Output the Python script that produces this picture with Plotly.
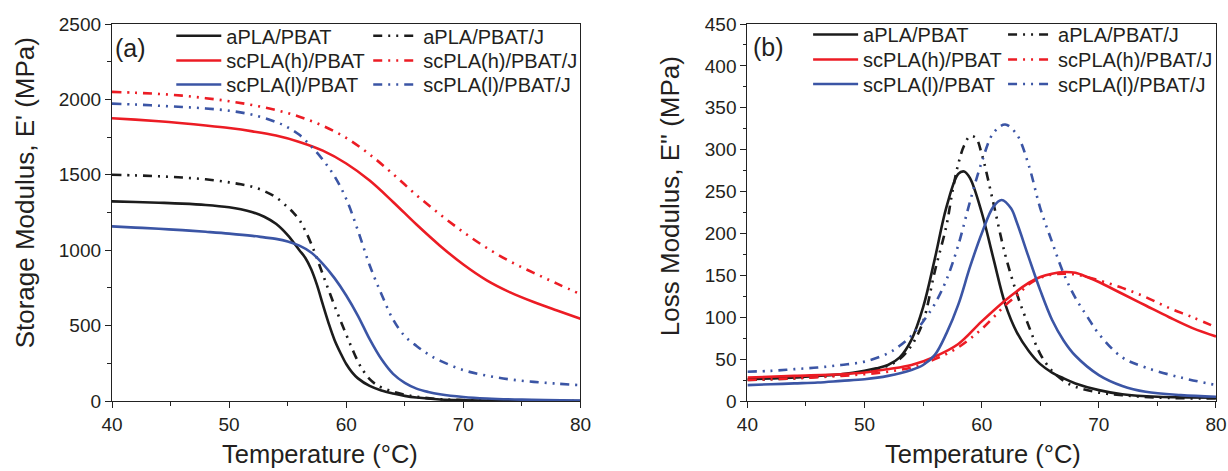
import plotly.graph_objects as go

# ---------------- Panel (a): Storage modulus E' (MPa) ----------------
a_apla_T = [40, 42, 44, 46, 48, 50, 51, 52, 53, 54, 55, 56, 56.5, 57, 57.5, 58, 58.5, 59, 59.5, 60, 60.5, 61,
            62, 63, 64, 65, 66, 68, 70, 74, 80]
a_apla_V = [1324, 1320, 1315, 1309, 1300, 1285, 1272, 1252, 1222, 1175, 1100, 1000, 950, 875, 770, 640, 515, 405,
            320, 245, 190, 150, 100, 70, 50, 34, 23, 10, 5, 1, 0]

a_aplaJ_T = [40, 42, 44, 46, 48, 50, 51, 52, 53, 54, 55, 55.5, 56, 56.5, 57, 57.5, 58, 58.5, 59, 59.5, 60, 60.5,
             61, 61.5, 62, 62.5, 63, 64, 65, 66, 68, 70, 74, 80]
a_aplaJ_V = [1500, 1496, 1490, 1482, 1470, 1450, 1437, 1420, 1392, 1350, 1285, 1248, 1200, 1130, 1045, 945, 840,
             735, 632, 535, 440, 348, 262, 195, 145, 112, 90, 62, 42, 28, 12, 6, 2, 0]

a_sch_T = [40, 42, 44, 46, 48, 50, 52, 54, 56, 58, 60, 62, 64, 66, 68, 70, 72, 74, 76, 78, 80]
a_sch_V = [1875, 1866, 1855, 1842, 1827, 1810, 1788, 1760, 1718, 1660, 1575, 1462, 1320, 1170, 1030, 905, 800,
           720, 656, 600, 546]

a_schJ_T = [40, 42, 44, 46, 48, 50, 52, 54, 56, 58, 60, 62, 64, 66, 68, 70, 72, 74, 76, 78, 80]
a_schJ_V = [2050, 2044, 2036, 2025, 2008, 1988, 1962, 1930, 1885, 1825, 1745, 1635, 1505, 1365, 1238, 1120, 1015,
            925, 850, 778, 708]

a_scl_T = [40, 42, 44, 46, 48, 50, 52, 53, 54, 55, 56, 57, 58, 59, 60, 61, 62, 63, 64, 65, 66, 67, 68, 70, 72,
           75, 80]
a_scl_V = [1158, 1150, 1142, 1133, 1122, 1110, 1095, 1085, 1075, 1058, 1030, 985, 910, 815, 700, 565, 410, 278,
           180, 120, 82, 60, 45, 27, 17, 9, 3]

a_sclJ_T = [40, 42, 44, 46, 48, 50, 52, 54, 55, 56, 57, 58, 59, 60, 61, 62, 63, 64, 65, 66, 67, 68, 70, 72, 74,
            76, 78, 80]
a_sclJ_V = [1972, 1966, 1958, 1950, 1940, 1925, 1898, 1850, 1815, 1765, 1690, 1600, 1490, 1340, 1130, 900, 710,
            540, 430, 365, 310, 268, 205, 168, 143, 127, 115, 105]

# ---------------- Panel (b): Loss modulus E'' (MPa) ----------------
b_apla_T = [40, 42, 44, 46, 48, 50, 51, 52, 53, 54, 55, 56, 57, 58, 58.5, 59, 60, 61, 62, 63, 64, 65, 66, 67,
            68, 70, 72, 75, 80]
b_apla_V = [26, 27, 28, 30, 32, 36, 39, 43, 52, 73, 112, 170, 232, 271, 274, 266, 225, 170, 116, 82, 60, 44, 34,
            27, 21, 13, 8, 5, 4]

b_aplaJ_T = [40, 42, 44, 46, 48, 50, 51, 52, 53, 54, 55, 56, 57, 57.5, 58, 58.5, 59, 59.5, 60, 61, 62, 63, 64,
             65, 66, 67, 68, 70, 72, 75, 80]
b_aplaJ_V = [25, 26, 27, 29, 31, 35, 38, 42, 50, 66, 95, 155, 210, 250, 283, 305, 316, 314, 295, 236, 175, 128,
             90, 56, 36, 24, 17, 10, 7, 4, 3]

b_sch_T = [40, 44, 48, 50, 52, 54, 56, 58, 60, 62, 63, 64, 65, 66, 67, 68, 69, 70, 72, 74, 76, 78, 80]
b_sch_V = [28, 30, 32, 34, 38, 43, 53, 68, 95, 120, 131, 141, 148, 152, 154, 153, 148, 142, 128, 114, 100, 87, 77]

b_schJ_T = [40, 44, 48, 50, 52, 54, 56, 58, 60, 62, 63, 64, 65, 66, 67, 68, 69, 70, 72, 74, 76, 78, 80]
b_schJ_V = [25, 27, 30, 32, 35, 40, 50, 64, 86, 114, 126, 139, 147, 151, 152, 151, 148, 144, 135, 124, 111, 100,
            88]

b_scl_T = [40, 42, 44, 46, 48, 50, 52, 54, 55, 56, 57, 58, 59, 60, 61, 61.7, 62.5, 63, 64, 65, 66, 67, 68, 70,
           72, 74, 77, 80]
b_scl_V = [19, 20, 21, 22, 24, 26, 30, 37, 43, 55, 81, 115, 160, 200, 232, 240, 230, 213, 172, 132, 97, 72, 54,
           31, 18, 11, 7, 5]

b_sclJ_T = [40, 42, 44, 46, 48, 50, 52, 53, 54, 55, 56, 57, 58, 59, 60, 61, 62, 63, 64, 65, 66, 67, 68, 69, 70,
            72, 74, 77, 80]
b_sclJ_V = [35, 36, 38, 40, 43, 47, 57, 66, 78, 95, 116, 145, 186, 238, 285, 320, 330, 318, 282, 230, 190, 152,
            123, 101, 80, 52, 40, 28, 19]

names = ["aPLA/PBAT", "aPLA/PBAT/J", "scPLA(h)/PBAT", "scPLA(h)/PBAT/J", "scPLA(l)/PBAT", "scPLA(l)/PBAT/J"]
x_ticks = [40, 50, 60, 70, 80]
ya_ticks = [0, 500, 1000, 1500, 2000, 2500]
yb_ticks = [0, 50, 100, 150, 200, 250, 300, 350, 400, 450]

BLACK = "#1c1c1c"
RED = "#ec1c24"
BLUE = "#3b55a5"
DDOT = "9px,6px,2px,6px,2px,6px"
FONT = "Liberation Sans, Arial, Helvetica, sans-serif"
TXT = "#231f20"

L, R, TOP, BOT = 111.7, 12, 24, 70
W, H = 1228, 471
PW = W - L - R
PH = H - TOP - BOT


def px(xp):
    return (xp - L) / PW


def py(yp):
    return (H - BOT - yp) / PH


colors = [BLACK, BLACK, RED, RED, BLUE, BLUE]
dashes = ["solid", DDOT, "solid", DDOT, "solid", DDOT]

# legend origins (px) per entry: (left, row centre)
leg_a = [(171, 36.7), (368, 36.7), (171, 61.5), (368, 61.5), (171, 85.5), (368, 85.5)]
leg_b = [(808, 35.5), (1003, 35.5), (808, 60.5), (1003, 60.5), (808, 85), (1003, 85)]

series_a = [(a_apla_T, a_apla_V), (a_aplaJ_T, a_aplaJ_V), (a_sch_T, a_sch_V), (a_schJ_T, a_schJ_V),
            (a_scl_T, a_scl_V), (a_sclJ_T, a_sclJ_V)]
series_b = [(b_apla_T, b_apla_V), (b_aplaJ_T, b_aplaJ_V), (b_sch_T, b_sch_V), (b_schJ_T, b_schJ_V),
            (b_scl_T, b_scl_V), (b_sclJ_T, b_sclJ_V)]

fig = go.Figure()
leg_layout = {}
leg_common = dict(bgcolor="rgba(0,0,0,0)", borderwidth=0, font=dict(size=20, color=TXT, family=FONT),
                  xanchor="left", yanchor="top", tracegroupgap=0, itemwidth=45, visible=True)

k = 0
for i, (T, V) in enumerate(series_a):
    k += 1
    lname = "legend" if k == 1 else f"legend{k}"
    fig.add_trace(go.Scatter(x=T, y=V, mode="lines", name=names[i], legend=lname, showlegend=True,
                             line=dict(color=colors[i], width=2.6, dash=dashes[i], shape="spline",
                                       smoothing=1.0),
                             xaxis="x", yaxis="y"))
    lx, ly = leg_a[i]
    leg_layout[lname] = dict(x=px(lx), y=py(ly - 20.5), **leg_common)
for i, (T, V) in enumerate(series_b):
    k += 1
    lname = f"legend{k}"
    fig.add_trace(go.Scatter(x=T, y=V, mode="lines", name=names[i], legend=lname, showlegend=True,
                             line=dict(color=colors[i], width=2.6, dash=dashes[i], shape="spline",
                                       smoothing=1.0),
                             xaxis="x2", yaxis="y2"))
    lx, ly = leg_b[i]
    leg_layout[lname] = dict(x=px(lx), y=py(ly - 20.5), **leg_common)

ax_common = dict(showline=True, linecolor="#222", linewidth=1.3, mirror=True, ticks="outside",
                 ticklen=6, tickwidth=1.3, tickcolor="#222", showgrid=False, zeroline=False,
                 tickfont=dict(size=19, color=TXT, family=FONT))

fig.update_layout(
    width=W, height=H,
    showlegend=True,
    margin=dict(l=L, r=R, t=TOP, b=BOT, autoexpand=False),
    paper_bgcolor="white", plot_bgcolor="white",
    font=dict(family=FONT, color=TXT),
    xaxis=dict(domain=[0, px(580.3)], range=[40, 80], tickvals=x_ticks, anchor="y",
               minor=dict(ticks="outside", ticklen=3.5, tickwidth=1.2, dtick=5, tickcolor="#222"),
               **ax_common),
    yaxis=dict(domain=[0, 1], range=[0, 2500], tickvals=ya_ticks, anchor="x",
               minor=dict(ticks="outside", ticklen=3.5, tickwidth=1.2, dtick=250, tickcolor="#222"),
               **ax_common),
    xaxis2=dict(domain=[px(747.3), 1], range=[40, 80], tickvals=x_ticks, anchor="y2",
                minor=dict(ticks="outside", ticklen=3.5, tickwidth=1.2, dtick=5, tickcolor="#222"),
                **ax_common),
    yaxis2=dict(domain=[0, 1], range=[0, 450], tickvals=yb_ticks, anchor="x2",
                minor=dict(ticks="outside", ticklen=3.5, tickwidth=1.2, dtick=25, tickcolor="#222"),
                **ax_common),
    **leg_layout,
)

ann = []
ann.append(dict(text="(a)", x=px(113), y=py(48), xref="paper", yref="paper", xanchor="left",
                yanchor="middle", showarrow=False, font=dict(size=25, color=TXT)))
ann.append(dict(text="(b)", x=px(750.5), y=py(46.7), xref="paper", yref="paper", xanchor="left",
                yanchor="middle", showarrow=False, font=dict(size=25, color=TXT)))
ann.append(dict(text="Storage Modulus, E' (MPa)", x=px(25), y=py(193), xref="paper", yref="paper",
                xanchor="center", yanchor="middle", textangle=-90, showarrow=False,
                font=dict(size=26, color=TXT)))
ann.append(dict(text="Loss Modulus, E'' (MPa)", x=px(670), y=py(196), xref="paper", yref="paper",
                xanchor="center", yanchor="middle", textangle=-90, showarrow=False,
                font=dict(size=26, color=TXT)))
ann.append(dict(text="Temperature (°C)", x=px(320), y=py(470), xref="paper", yref="paper",
                xanchor="center", yanchor="bottom", showarrow=False, font=dict(size=25.5, color=TXT)))
ann.append(dict(text="Temperature (°C)", x=px(982.5), y=py(470), xref="paper", yref="paper",
                xanchor="center", yanchor="bottom", showarrow=False, font=dict(size=25.5, color=TXT)))
fig.update_layout(annotations=ann)

fig.write_html("out.html")
